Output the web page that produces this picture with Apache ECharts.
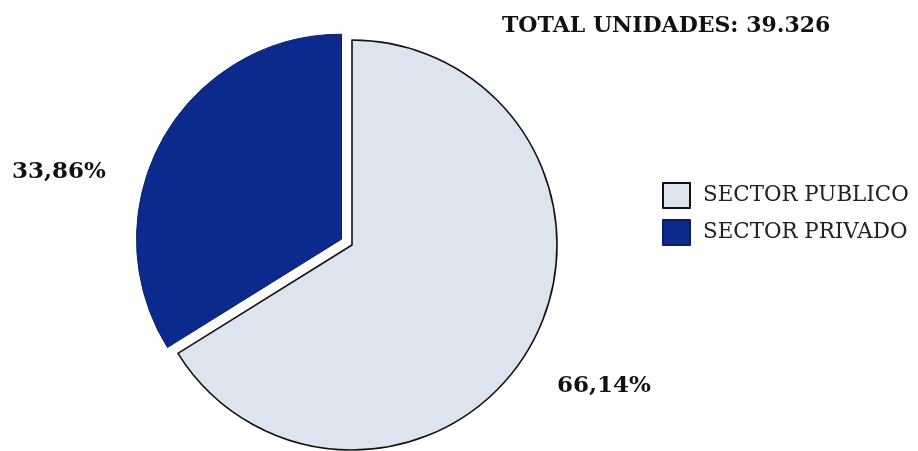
<!DOCTYPE html>
<html>
<head>
<meta charset="utf-8">
<script src="https://cdn.jsdelivr.net/npm/echarts@6/dist/echarts.min.js"></script>
<style>
  html, body { margin: 0; padding: 0; background: #fff; }
  #chart { width: 918px; height: 451px; }
</style>
</head>
<body>
<div id="chart"></div>
<script>
// datos
var sectores = ['SECTOR PUBLICO', 'SECTOR PRIVADO'];
var porcentajes = [66.14, 33.86];
var totalUnidades = 39326;

var colores = ['#dce4ef', '#0c2a8e'];
var bordes = ['#111', '#0a1f66'];
// posicion de las etiquetas de porcentaje
var posEtiquetas = [[604, 386], [59, 172]];

function fmtPct(v) {
  return v.toFixed(2).replace('.', ',') + '%';
}
function fmtMiles(n) {
  return String(n).replace(/\B(?=(\d{3})+(?!\d))/g, '.');
}

var myChart = echarts.init(document.getElementById('chart'));
var option = {
  animation: false,
  title: {
    text: 'TOTAL UNIDADES: ' + fmtMiles(totalUnidades),
    left: 497,
    top: 10,
    textStyle: {
      fontFamily: 'DejaVu Serif',
      fontWeight: 'bold',
      fontSize: 22,
      color: '#111'
    }
  },
  legend: {
    orient: 'vertical',
    left: 662,
    top: 182,
    padding: 0,
    itemWidth: 27,
    itemHeight: 25,
    itemGap: 10,
    icon: 'rect',
    selectedMode: false,
    textStyle: {
      fontFamily: 'DejaVu Serif',
      fontSize: 21.4,
      color: '#222',
      padding: [0, 0, 0, 8]
    },
    data: sectores
  },
  graphic: porcentajes.map(function (v, i) {
    return {
      type: 'text',
      x: posEtiquetas[i][0],
      y: posEtiquetas[i][1],
      style: {
        text: fmtPct(v),
        fontFamily: 'DejaVu Serif',
        fontWeight: 'bold',
        fontSize: 23,
        fill: '#111',
        align: 'center',
        verticalAlign: 'middle'
      }
    };
  }),
  series: [
    {
      type: 'pie',
      center: [352, 245],
      radius: 205,
      startAngle: 90,
      clockwise: true,
      selectedMode: 'multiple',
      selectedOffset: 12,
      emphasis: { disabled: true },
      label: { show: false },
      labelLine: { show: false },
      data: sectores.map(function (name, i) {
        return {
          name: name,
          value: porcentajes[i],
          selected: i === 1,
          itemStyle: {
            color: colores[i],
            borderColor: bordes[i],
            borderWidth: i === 0 ? 1.6 : 1
          }
        };
      })
    }
  ]
};
myChart.setOption(option);
</script>
</body>
</html>
